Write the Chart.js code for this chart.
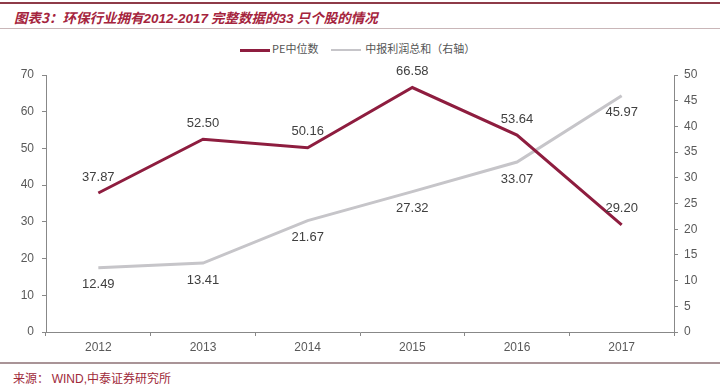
<!DOCTYPE html>
<html>
<head>
<meta charset="utf-8">
<script src="https://cdn.jsdelivr.net/npm/chart.js@4/dist/chart.umd.min.js"></script>
<style>
  body { margin: 0; width: 720px; height: 390px; background: #fff; position: relative; overflow: hidden; font-family: "Liberation Sans", Arial, sans-serif; }
  #title { position: absolute; left: 0; top: 2px; width: 720px; height: 24px; border-top: 2px solid #8e3b48; border-bottom: 1px solid #c9b6b8; }
  #title span { position: absolute; left: 14px; top: 3px; font: italic bold 13.5px "Noto Sans CJK SC", "Liberation Sans", sans-serif; color: #a5243d; white-space: nowrap; }
  #wrap { position: absolute; left: 0; top: 30px; width: 720px; height: 330px; }
  #legend { position: absolute; top: 40px; left: 240px; font: 11px "Noto Sans CJK SC", sans-serif; color: #555; white-space: nowrap; }
  #legend i { display: inline-block; width: 30px; height: 3px; vertical-align: middle; margin-right: 2px; }
  #source { position: absolute; left: 0; top: 362px; width: 720px; border-top: 2px solid #a99497; }
  #source span { position: absolute; left: 13px; top: 5px; font: 12px "Noto Sans CJK SC", "Liberation Sans", sans-serif; color: #a02a3a; white-space: nowrap; }
</style>
</head>
<body>
<div id="title"><span>图表3：环保行业拥有<b style="font-family:'Liberation Sans'">2012-2017</b> 完整数据的<b style="font-family:'Liberation Sans'">33</b> 只个股的情况</span></div>
<div id="legend"><i style="background:#8e1d3f"></i>PE中位数 &nbsp;&nbsp;&nbsp;&nbsp;<i style="background:#c6c5c9;height:2px"></i> 中报利润总和（右轴）</div>
<div id="wrap"><canvas id="myChart" width="720" height="330"></canvas></div>
<div id="source"><span>来源： <span style="position:static;font-family:'Liberation Sans';color:#a02a3a">WIND,</span>中泰证券研究所</span></div>
<script>
//data
const years = ["2012", "2013", "2014", "2015", "2016", "2017"];
const peMedian = [37.87, 52.50, 50.16, 66.58, 53.64, 29.20];
const profitSum = [12.49, 13.41, 21.67, 27.32, 33.07, 45.97];

const red = "#8e1d3f";
const gray = "#c6c5c9";
const tickColor = "#595959";

//value labels, red above the points, gray below
const valueLabels = {
  id: "valueLabels",
  afterDatasetsDraw(chart) {
    const ctx = chart.ctx;
    ctx.save();
    ctx.font = "13px 'Liberation Sans', Arial, sans-serif";
    ctx.fillStyle = "#404040";
    ctx.textAlign = "center";
    ctx.textBaseline = "middle";
    chart.data.datasets.forEach((ds, i) => {
      chart.getDatasetMeta(i).data.forEach((pt, j) => {
        const dy = i === 0 ? -16 : 17;
        ctx.fillText(ds.data[j].toFixed(2), pt.x, pt.y + dy);
      });
    });
    ctx.restore();
  }
};

new Chart("myChart", {
  type: "line",
  data: {
    labels: years,
    datasets: [{
      label: "PE中位数",
      data: peMedian,
      borderColor: red,
      borderWidth: 3,
      pointRadius: 0,
      yAxisID: "y",
      fill: false
    }, {
      label: "中报利润总和（右轴）",
      data: profitSum,
      borderColor: gray,
      borderWidth: 3,
      pointRadius: 0,
      yAxisID: "y1",
      fill: false
    }]
  },
  options: {
    responsive: false,
    animation: false,
    layout: { padding: { top: 45, left: 0, right: 0, bottom: 0 } },
    plugins: { legend: { display: false }, tooltip: { enabled: false } },
    scales: {
      x: {
        offset: true,
        grid: { offset: true, drawOnChartArea: false, tickLength: 4, color: "#888" },
        border: { color: "#888" },
        ticks: { color: tickColor, font: { size: 12, family: "'Liberation Sans', Arial" }, padding: 4 },
        afterFit(s) { s.height = 28; }
      },
      y: {
        position: "left",
        min: 0, max: 70,
        ticks: { stepSize: 10, color: tickColor, font: { size: 12, family: "'Liberation Sans', Arial" }, padding: 8 },
        grid: { drawOnChartArea: false, tickLength: 4, color: "#888" },
        border: { color: "#888" },
        afterFit(s) { s.width = 46; }
      },
      y1: {
        position: "right",
        min: 0, max: 50,
        ticks: { stepSize: 5, color: tickColor, font: { size: 12, family: "'Liberation Sans', Arial" }, padding: 6 },
        grid: { drawOnChartArea: false, tickLength: 4, color: "#888" },
        border: { color: "#888" },
        afterFit(s) { s.width = 46; }
      }
    }
  },
  plugins: [valueLabels]
});
</script>
</body>
</html>
